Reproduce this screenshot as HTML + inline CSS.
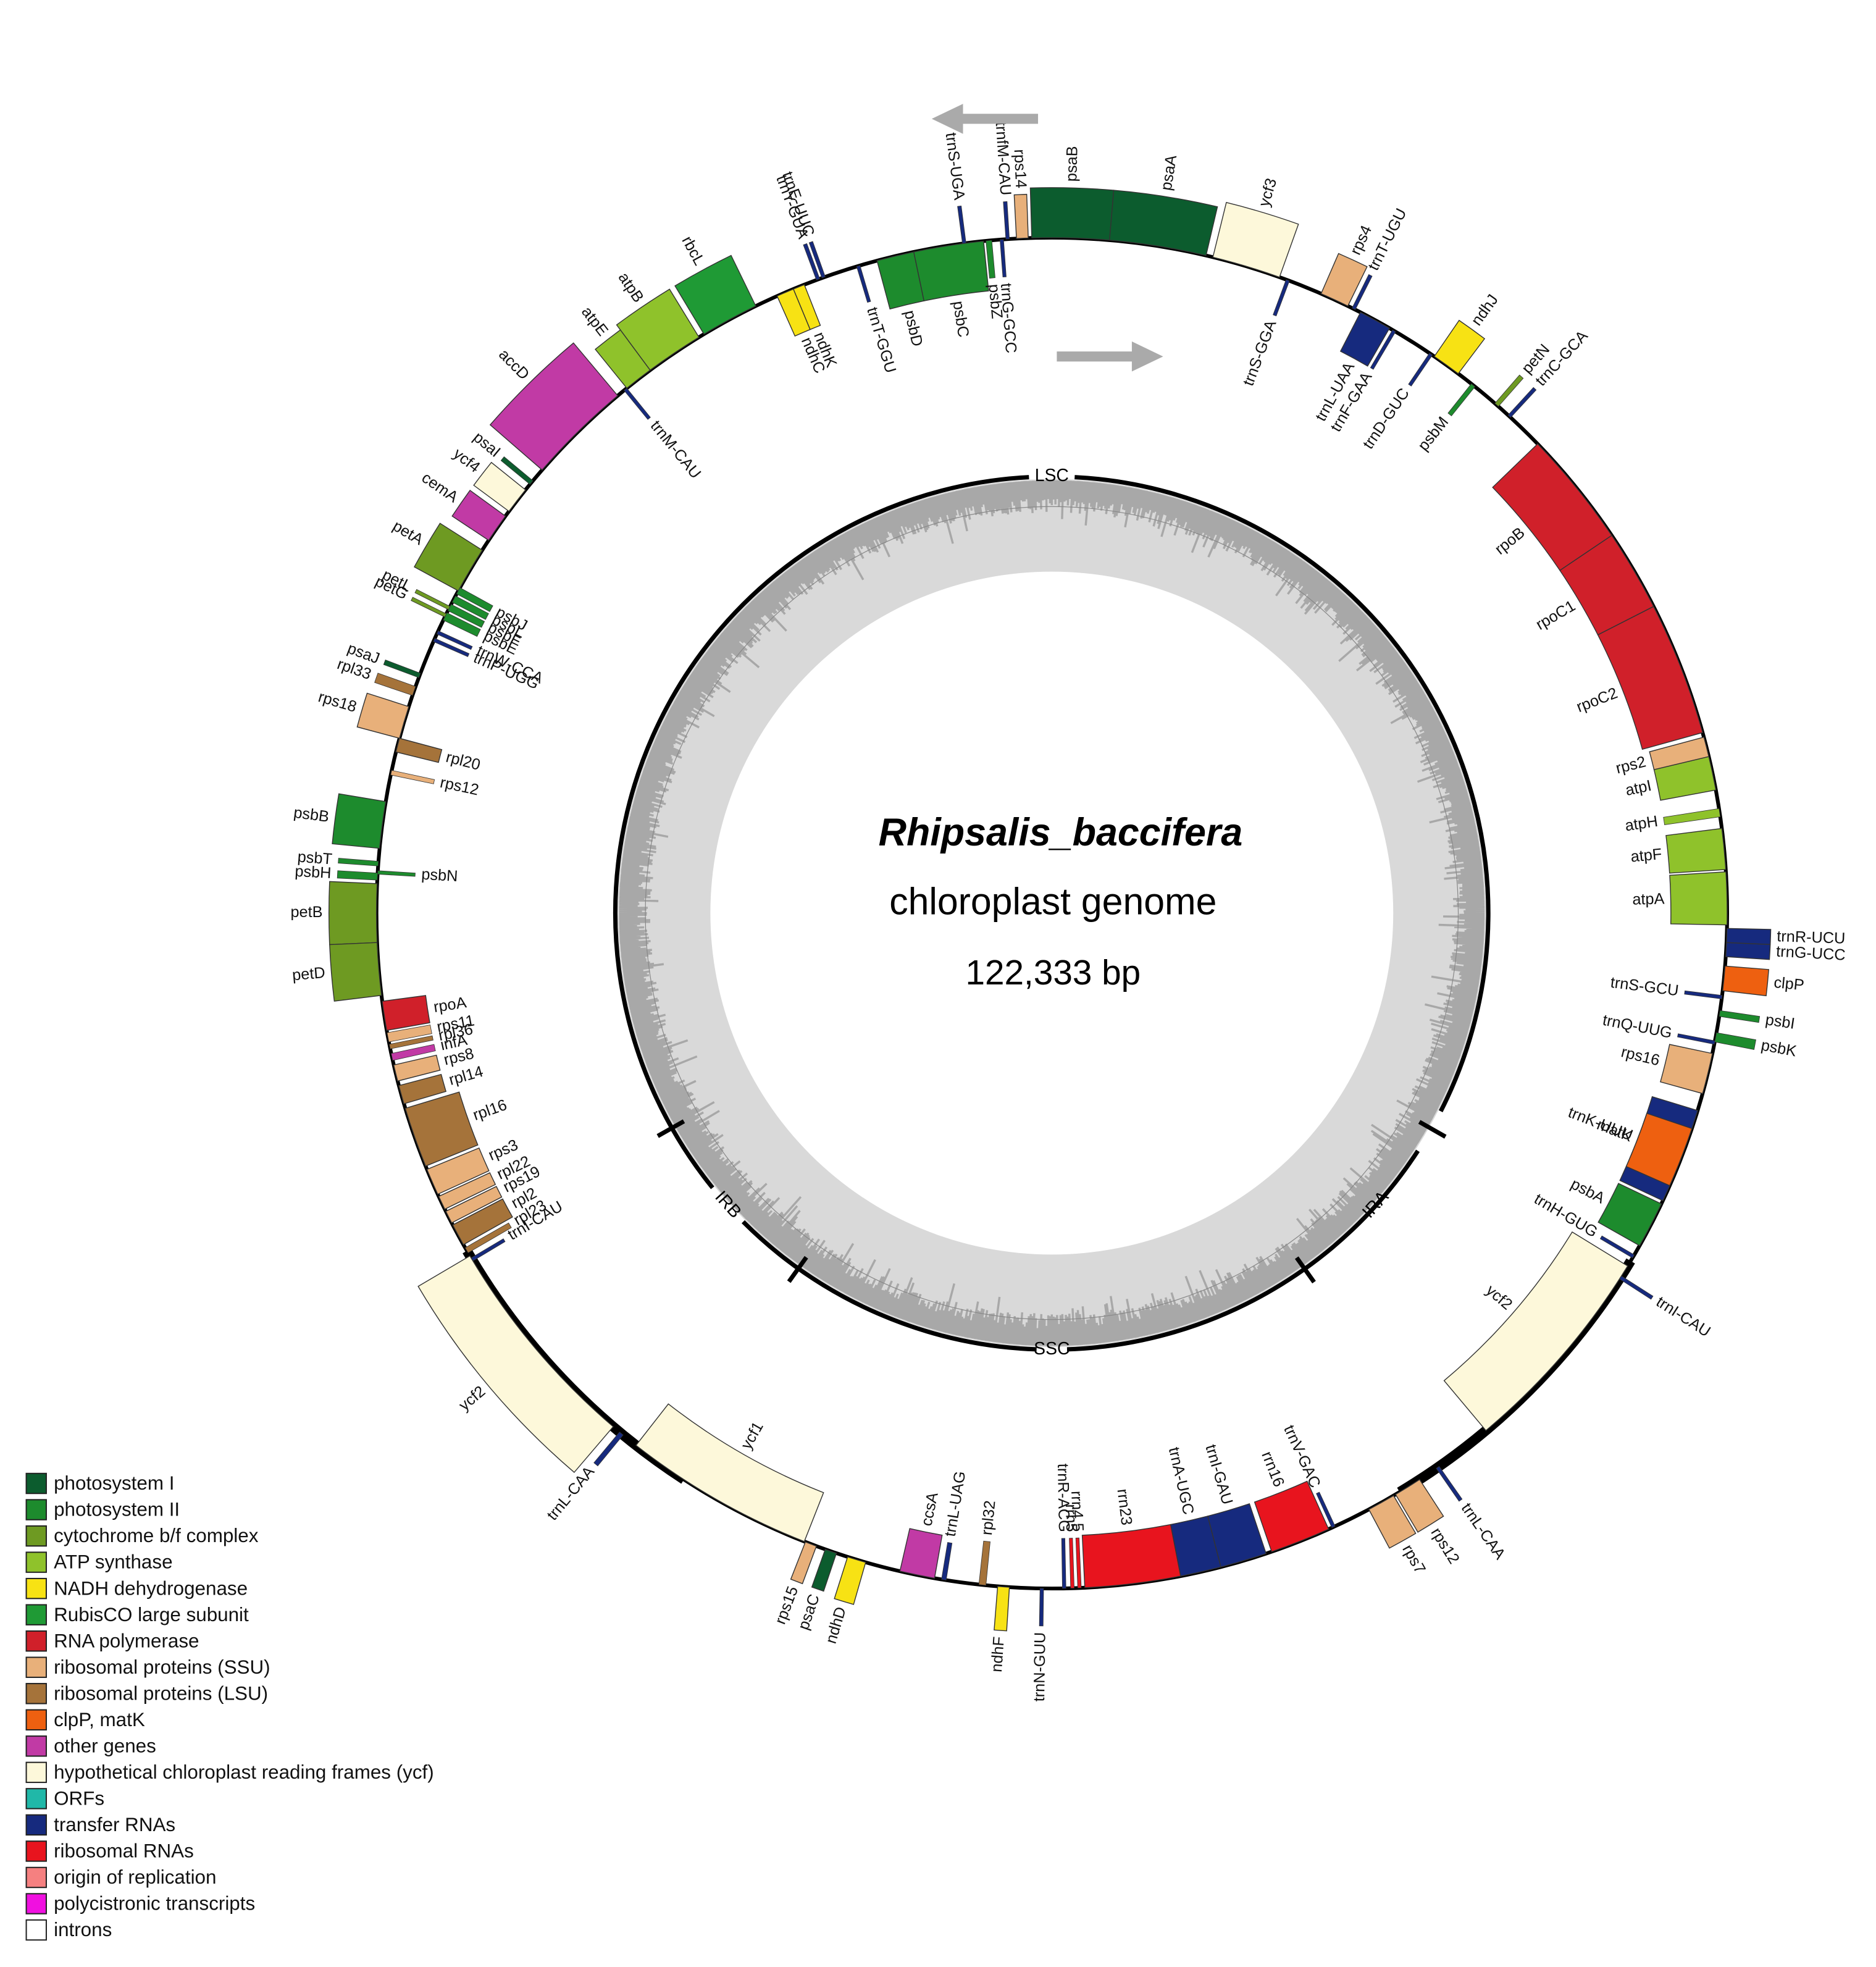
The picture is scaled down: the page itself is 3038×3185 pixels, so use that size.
<!DOCTYPE html>
<html><head><meta charset="utf-8"><style>
html,body{margin:0;padding:0;background:#fff;}
svg{display:block;}
text{font-family:"Liberation Sans",Arial,sans-serif;}
</style></head><body>
<svg id="s" xmlns="http://www.w3.org/2000/svg" width="3038" height="3185" viewBox="0 0 1500 1572.6">
<rect width="1500" height="1573" fill="#fff"/>
<g id="gc"></g>
<g id="genes"></g>
<g id="labs" font-size="12.5" fill="#111"></g>
<g id="legend" font-size="15.5" fill="#111">
<rect x="21" y="1178" width="16" height="16" fill="#0c5c2e" stroke="#222"/><text x="43" y="1191">photosystem I</text>
<rect x="21" y="1199" width="16" height="16" fill="#1d8b2d" stroke="#222"/><text x="43" y="1212">photosystem II</text>
<rect x="21" y="1220" width="16" height="16" fill="#6e9a22" stroke="#222"/><text x="43" y="1233">cytochrome b/f complex</text>
<rect x="21" y="1241" width="16" height="16" fill="#8fc22b" stroke="#222"/><text x="43" y="1254">ATP synthase</text>
<rect x="21" y="1262" width="16" height="16" fill="#f7e214" stroke="#222"/><text x="43" y="1275">NADH dehydrogenase</text>
<rect x="21" y="1283" width="16" height="16" fill="#1f9a35" stroke="#222"/><text x="43" y="1296">RubisCO large subunit</text>
<rect x="21" y="1304" width="16" height="16" fill="#d0202a" stroke="#222"/><text x="43" y="1317">RNA polymerase</text>
<rect x="21" y="1325" width="16" height="16" fill="#e8b07a" stroke="#222"/><text x="43" y="1338">ribosomal proteins (SSU)</text>
<rect x="21" y="1346" width="16" height="16" fill="#a5733a" stroke="#222"/><text x="43" y="1359">ribosomal proteins (LSU)</text>
<rect x="21" y="1367" width="16" height="16" fill="#ee6010" stroke="#222"/><text x="43" y="1380">clpP, matK</text>
<rect x="21" y="1388" width="16" height="16" fill="#c13aa5" stroke="#222"/><text x="43" y="1401">other genes</text>
<rect x="21" y="1409" width="16" height="16" fill="#fdf8da" stroke="#222"/><text x="43" y="1422">hypothetical chloroplast reading frames (ycf)</text>
<rect x="21" y="1430" width="16" height="16" fill="#20b8a8" stroke="#222"/><text x="43" y="1443">ORFs</text>
<rect x="21" y="1451" width="16" height="16" fill="#162a7e" stroke="#222"/><text x="43" y="1464">transfer RNAs</text>
<rect x="21" y="1472" width="16" height="16" fill="#e8141e" stroke="#222"/><text x="43" y="1485">ribosomal RNAs</text>
<rect x="21" y="1493" width="16" height="16" fill="#f58080" stroke="#222"/><text x="43" y="1506">origin of replication</text>
<rect x="21" y="1514" width="16" height="16" fill="#f010e0" stroke="#222"/><text x="43" y="1527">polycistronic transcripts</text>
<rect x="21" y="1535" width="16" height="16" fill="#fff" stroke="#222"/><text x="43" y="1548">introns</text>
</g>
<g fill="#aaa">
<path d="M830,91 L770,91 L770,83 L745,95 L770,107 L770,99 L830,99 Z"/>
<path d="M845,281 L905,281 L905,273 L930,285 L905,297 L905,289 L845,289 Z"/>
</g>
<text x="848" y="676" font-size="31" font-weight="bold" font-style="italic" text-anchor="middle">Rhipsalis_baccifera</text>
<text x="842" y="731" font-size="30" text-anchor="middle">chloroplast genome</text>
<text x="842" y="787" font-size="28" text-anchor="middle">122,333 bp</text>
</svg>
<script>
(function(){
var NS="http://www.w3.org/2000/svg",cx=841,cy=730,R=540;
function el(t,a,p){var e=document.createElementNS(NS,t);for(var k in a)e.setAttribute(k,a[k]);p.appendChild(e);return e;}
function pt(r,a){var t=a*Math.PI/180;return [cx+r*Math.sin(t),cy-r*Math.cos(t)];}
function arc(r,a1,a2){var p=pt(r,a1),q=pt(r,a2),l=(a2-a1)>180?1:0;return "M"+p[0]+","+p[1]+" A"+r+","+r+" 0 "+l+" 1 "+q[0]+","+q[1];}
function sector(r1,r2,a1,a2){var p1=pt(r2,a1),p2=pt(r2,a2),p3=pt(r1,a2),p4=pt(r1,a1),l=(a2-a1)>180?1:0;
return "M"+p1[0]+","+p1[1]+" A"+r2+","+r2+" 0 "+l+" 1 "+p2[0]+","+p2[1]+" L"+p3[0]+","+p3[1]+" A"+r1+","+r1+" 0 "+l+" 0 "+p4[0]+","+p4[1]+"Z";}
var gc=document.getElementById("gc");
el("circle",{cx:cx,cy:cy,r:347,fill:"#d9d9d9"},gc);
el("circle",{cx:cx,cy:cy,r:273,fill:"#fff"},gc);
var seed=7;function rnd(){seed=(seed*9301+49297)%233280;return seed/233280;}
var d="";
for(var i=0;i<1440;i++){var a=i/4,L=14+rnd()*12+(rnd()<0.1?rnd()*18:0);var p=pt(346,a),q=pt(346-L,a);d+="M"+p[0].toFixed(1)+","+p[1].toFixed(1)+"L"+q[0].toFixed(1)+","+q[1].toFixed(1);}
el("path",{d:d,stroke:"#a8a8a8","stroke-width":1.7,fill:"none"},gc);
el("circle",{cx:cx,cy:cy,r:325,fill:"none",stroke:"#888","stroke-width":0.6},gc);
[[3,117],[123,178],[182,225],[231,357]].forEach(function(s){el("path",{d:arc(349,s[0],s[1]),stroke:"#000","stroke-width":3.5,fill:"none"},gc);});
[119.6,144.6,215.5,240.5].forEach(function(a){var p=pt(338,a),q=pt(362,a);el("line",{x1:p[0],y1:p[1],x2:q[0],y2:q[1],stroke:"#000","stroke-width":3.5},gc);});
function rl(t,a,r,rot){var p=pt(r,a);var e=el("text",{x:p[0],y:p[1],"text-anchor":"middle","dominant-baseline":"middle","font-size":14,transform:"rotate("+rot+" "+p[0]+" "+p[1]+")"},gc);e.textContent=t;}
rl("LSC",0,349,0);rl("SSC",180,349,0);rl("IRA",132,349,-48);rl("IRB",228,349,48);
var G=document.getElementById("genes");
el("circle",{cx:cx,cy:cy,r:R,fill:"none",stroke:"#000","stroke-width":3},G);
el("path",{d:arc(R,121,149),stroke:"#000","stroke-width":8,fill:"none"},G);
el("path",{d:arc(R,213,240),stroke:"#000","stroke-width":8,fill:"none"},G);
var P1="#0c5c2e",P2="#1d8b2d",CB="#6e9a22",AT="#8fc22b",ND="#f7e214",RB="#1f9a35",RP="#d0202a",SS="#e8b07a",LS="#a5733a",CM="#ee6010",OT="#c13aa5",YC="#fdf8da",TR="#162a7e",RR="#e8141e";
var genes=[
["psaB",-1.7,4.9,"o",P1,40],["psaA",4.9,13.2,"o",P1,40],["ycf3",13.8,19.7,"o",YC,45],["rps14",-3,-2,"o",SS,35],
["trnfM-CAU",-3.9,-3.6,"o",TR,30],["trnS-UGA",-7.6,-7.3,"o",TR,30],["trnG-GCC",-4.4,-4.1,"i",TR,30],["psbZ",-5.6,-5.1,"i",P2,30],
["psbC",-11.8,-5.8,"i",P2,40],["psbD",-15,-11.8,"i",P2,40],["trnT-GGU",-16.8,-16.5,"i",TR,30],["ndhK",-22.5,-21.5,"i",ND,35],
["ndhC",-24,-22.5,"i",ND,35],["trnE-UUC",-19.9,-19.6,"o",TR,30],["trnY-GUA",-20.4,-20.1,"o",TR,30],["rbcL",-31,-26,"o",RB,45],
["atpB",-36.5,-31.5,"o",AT,45],["atpE",-39,-36.5,"o",AT,40],["trnM-CAU",-39.3,-39,"i",TR,30],["accD",-49,-40,"o",OT,55],
["psaI",-50.6,-50.2,"o",P1,30],["ycf4",-53.5,-51.2,"o",YC,35],["cemA",-56.5,-54,"o",OT,35],["petA",-61.5,-57.5,"o",CB,40],
["petL",-63.3,-63,"o",CB,30],["petG",-64,-63.7,"o",CB,30],["psbJ",-61.8,-61.2,"i",P2,30],["psbL",-62.6,-62,"i",P2,30],
["psbF",-63.4,-62.8,"i",P2,30],["psbE",-64.3,-63.6,"i",P2,30],["trnW-CCA",-65.6,-65.3,"i",TR,30],["trnP-UGG",-66.3,-66,"i",TR,30],
["psaJ",-69.6,-69.2,"o",P1,30],["rpl33",-71.2,-70.4,"o",LS,32],["rps18",-75,-72.2,"o",SS,35],["rpl20",-76.2,-75,"i",LS,35],
["rps12",-78.2,-77.8,"i",SS,35],["psbB",-84.5,-80.5,"o",P2,38],["psbT",-86,-85.6,"o",P2,32],["psbH",-87.2,-86.6,"o",P2,32],
["psbN",-86.7,-86.4,"i",P2,30],["petB",-92.5,-87.5,"o",CB,38],["petD",-97,-92.5,"o",CB,38],
["rpoA",-100,-97.5,"i",RP,35],["rps11",-101,-100.2,"i",SS,35],["rpl36",-101.6,-101.2,"i",LS,35],["infA",-102.6,-102,"i",OT,35],
["rps8",-104.4,-103,"i",SS,35],["rpl14",-106.4,-104.8,"i",LS,35],["rpl16",-112,-106.8,"i",LS,45],["rps3",-114.6,-112.3,"i",SS,45],
["rpl22",-116,-114.8,"i",SS,45],["rps19",-117.3,-116.2,"i",SS,45],["rpl2",-119.4,-117.5,"i",LS,45],["rpl23",-120.2,-119.7,"i",LS,40],
["trnI-CAU",-121,-120.7,"i",TR,30],["ycf2",-139.5,-120.5,"o",YC,48],["trnL-CAA",-140.6,-140.2,"o",TR,32],["ycf1",-158.5,-142,"i",YC,42],
["rps15",-159.6,-158.6,"o",SS,32],["psaC",-161.4,-160.4,"o",P1,32],["ndhD",-164,-162.4,"o",ND,35],["ccsA",-170,-167,"i",OT,35],
["trnL-UAG",-171,-170.6,"i",TR,30],["rpl32",-174.4,-173.8,"i",LS,35],["ndhF",-176.4,-175.4,"o",ND,35],["trnN-GUU",-179.3,-179,"o",TR,30],
["trnR-ACG",178.8,179.1,"i",TR,40],["rrn5",178.1,178.4,"i",RR,40],["rrn4.5",177.5,177.8,"i",RR,40],["rrn23",169,177.2,"i",RR,42],
["trnA-UGC",165.5,169,"i",TR,42],["trnI-GAU",161.5,165.5,"i",TR,42],["rrn16",155.8,161,"i",RR,42],["trnV-GAC",155.2,155.5,"i",TR,30],
["rps7",149.6,152,"o",SS,35],["rps12",147,149.4,"o",SS,35],["trnL-CAA",145,145.3,"o",TR,32],["ycf2",121.5,140,"i",YC,52],
["trnI-CAU",122.5,122.8,"o",TR,30],["trnH-GUG",120.4,120.7,"i",TR,30],["psbA",115.5,119.5,"i",P2,38],["trnK-UUU",107,115.2,"i",TR,38],
["matK",108.6,113.8,"i",CM,38],["rps16",102,105.5,"i",SS,35],["trnQ-UUG",100.9,101.2,"i",TR,30],["psbK",100.2,101,"o",P2,32],
["psbI",98.3,98.8,"o",P2,32],["trnS-GCU",97,97.3,"i",TR,30],["clpP",94.5,96.6,"o",CM,35],["trnG-UCC",92.5,93.7,"o",TR,35],
["trnR-UCU",91.3,92.5,"o",TR,35],["atpA",86.5,91,"i",AT,45],["atpF",82.8,86.3,"i",AT,45],["atpH",81.1,81.8,"i",AT,45],
["atpI",76.6,79.5,"i",AT,45],["rps2",74.9,76.6,"i",SS,45],["rpoC2",63,74.5,"i",RP,50],["rpoC1",56,63,"i",RP,50],["rpoB",46,56,"i",RP,50],
["trnC-GCA",42.5,42.8,"o",TR,30],["petN",41,41.4,"o",CB,30],["psbM",38.4,38.8,"i",P2,30],["trnD-GUC",34,34.3,"i",TR,30],
["ndhJ",34.5,37,"o",ND,35],["trnF-GAA",30.3,30.6,"i",TR,35],["trnL-UAA",27.2,30,"i",TR,35],["trnT-UGU",26.4,26.7,"o",TR,30],
["rps4",23.5,26,"o",SS,35],["trnS-GGA",20.3,20.6,"i",TR,30]
];
var L=document.getElementById("labs");
genes.forEach(function(g){
 var a1=g[1],a2=g[2],h=g[5],out=g[3]=="o";
 var r1=out?R:R-h,r2=out?R+h:R;
 el("path",{d:sector(r1,r2,a1,a2),fill:g[4],stroke:"#333","stroke-width":(a2-a1<1?0.4:0.7)},G);
 var a=(a1+a2)/2;var an=((a%360)+360)%360;
 var r=out?r2+5:r1-5;var p=pt(r,a);var rot,anc;
 if(an<180){rot=an-90;anc=out?"start":"end";}else{rot=an+90;anc=out?"end":"start";}
 var t=el("text",{x:p[0],y:p[1],"text-anchor":anc,"dominant-baseline":"middle",transform:"rotate("+rot+" "+p[0]+" "+p[1]+")"},L);
 t.textContent=g[0];
});
})();
</script>
</body></html>
